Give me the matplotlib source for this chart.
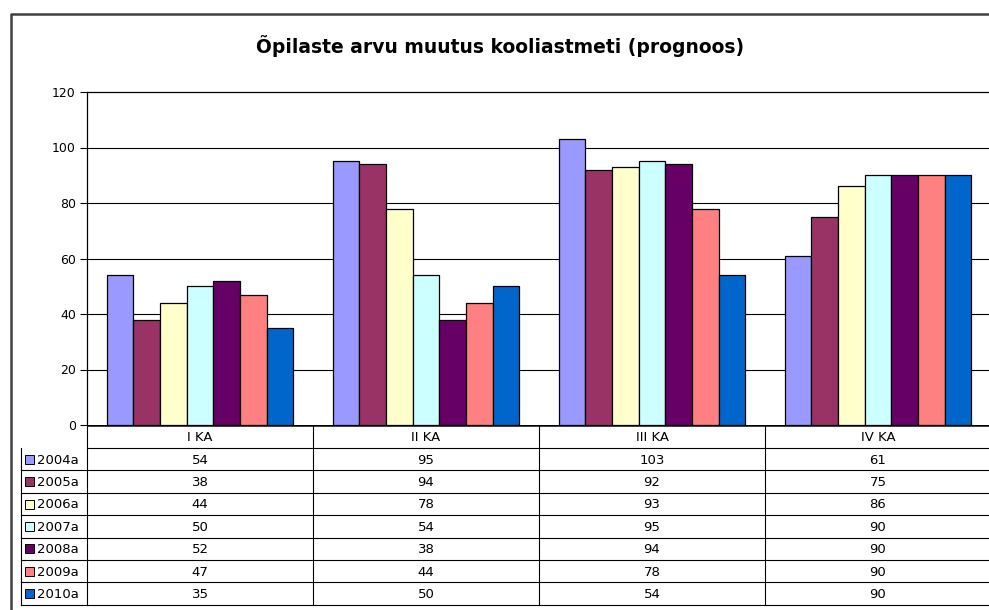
import matplotlib
matplotlib.use("Agg")
import matplotlib.pyplot as plt
from matplotlib.patches import Rectangle

# andmed
categories = ["I KA", "II KA", "III KA", "IV KA"]
series_names = ["2004a", "2005a", "2006a", "2007a", "2008a", "2009a", "2010a"]
v2004 = [54, 95, 103, 61]
v2005 = [38, 94, 92, 75]
v2006 = [44, 78, 93, 86]
v2007 = [50, 54, 95, 90]
v2008 = [52, 38, 94, 90]
v2009 = [47, 44, 78, 90]
v2010 = [35, 50, 54, 90]
series_values = [v2004, v2005, v2006, v2007, v2008, v2009, v2010]
colors = ["#9999FF", "#993366", "#FFFFCC", "#CCFFFF", "#660066", "#FF8080", "#0066CC"]
title = "Õpilaste arvu muutus kooliastmeti (prognoos)"

W, H = 989, 610
fig = plt.figure(figsize=(W / 100, H / 100), dpi=100)

# taust/raam + tabel pikslites
bg = fig.add_axes([0, 0, 1, 1])
bg.set_xlim(0, W)
bg.set_ylim(H, 0)
bg.axis("off")
bg.plot([11, 11, W + 5], [H + 5, 14, 14], color="#404040", lw=1.8, solid_capstyle="butt")
bg.text(500, 46, title, ha="center", va="center", fontsize=13.5, fontweight="bold")

# diagrammi ala
x0, x1, y_top, y_bot = 87, 991, 92, 425
ax = fig.add_axes([x0 / W, (H - y_bot) / H, (x1 - x0) / W, (y_bot - y_top) / H])
ax.set_xlim(0, len(categories))
ax.set_ylim(0, 120)
ax.set_yticks(range(0, 121, 20))
ax.set_xticks([])
ax.tick_params(axis="y", length=5, width=0.8, labelsize=9, pad=3)
for s in ["right", "bottom"]:
    ax.spines[s].set_visible(False)
ax.spines["left"].set_linewidth(0.9)
ax.spines["top"].set_linewidth(0.9)
for g in range(20, 101, 20):
    ax.axhline(g, color="black", lw=0.8, zorder=1)

bw = 0.118
n = len(series_names)
for j, (vals, c) in enumerate(zip(series_values, colors)):
    xs = [i + 0.5 + (j - (n - 1) / 2) * bw for i in range(len(categories))]
    ax.bar(xs, vals, width=bw, color=c, edgecolor="black", linewidth=0.9, zorder=2)

# tabel
row_h = 22.4
hdr_bot = 448
bottom = hdr_bot + n * row_h
leg_left = 21
col_x = [x0 + i * (x1 - x0) / len(categories) for i in range(len(categories) + 1)]

bg.plot([x0, W + 5], [y_bot, y_bot], color="black", lw=1.8, solid_capstyle="butt")
for cx in col_x[:-1]:
    bg.plot([cx, cx], [y_bot, bottom], color="black", lw=0.8)
bg.plot([leg_left, leg_left], [hdr_bot, bottom], color="black", lw=0.8)
bg.plot([x0, W + 5], [hdr_bot, hdr_bot], color="black", lw=0.8)
for r in range(1, n + 1):
    yy = hdr_bot + r * row_h
    bg.plot([leg_left, W + 5], [yy, yy], color="black", lw=0.8)

fs = 9.5
for i, cat in enumerate(categories):
    cx = (col_x[i] + col_x[i + 1]) / 2
    bg.text(cx, (y_bot + hdr_bot) / 2 + 1, cat, ha="center", va="center", fontsize=fs)
    for j in range(n):
        yy = hdr_bot + (j + 0.5) * row_h + 1
        bg.text(cx, yy, str(series_values[j][i]), ha="center", va="center", fontsize=fs)

for j, (name, c) in enumerate(zip(series_names, colors)):
    yc = hdr_bot + (j + 0.5) * row_h
    bg.add_patch(Rectangle((25, yc - 4.5), 9, 9, facecolor=c, edgecolor="black", lw=0.7))
    bg.text(37, yc + 1, name, ha="left", va="center", fontsize=fs)

fig.savefig("out.png", dpi=100)
